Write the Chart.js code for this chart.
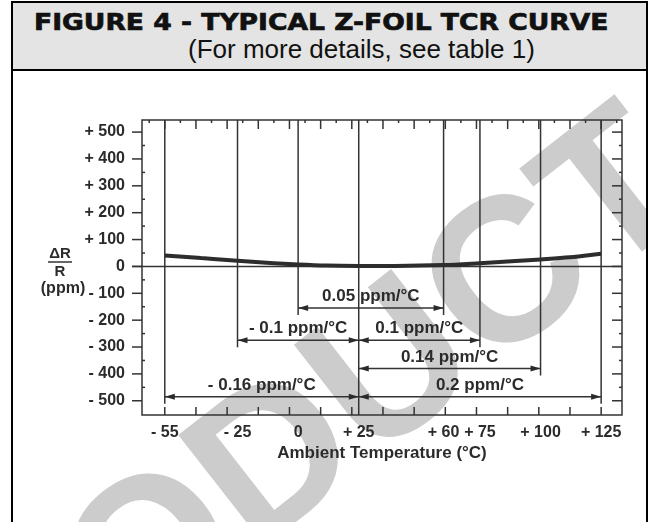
<!DOCTYPE html>
<html>
<head>
<meta charset="utf-8">
<script src="https://cdn.jsdelivr.net/npm/chart.js@4.4.0/dist/chart.umd.min.js"></script>
<style>
  body { margin: 0; background: #fff; }
  #page { position: relative; width: 652px; height: 522px; overflow: hidden; }
  #frame { position: absolute; left: 11px; top: 1px; width: 633px; height: 540px;
           border: 2px solid #000; border-bottom: none; }
  #head { position: absolute; left: 0; top: 0; width: 633px; height: 66px;
          background: #e4e4e4; border-bottom: 2px solid #000; }
  #title { position: absolute; left: 21px; top: 6px; line-height: 1; white-space: nowrap;
           font: bold 23px "DejaVu Sans"; color: #111; -webkit-text-stroke: 0.7px #111;
           transform: scaleX(1.155); transform-origin: 0 0; }
  #sub { position: absolute; left: 175px; top: 31px; line-height: 1; white-space: nowrap;
         font: 26px "Liberation Sans"; color: #111; }
  #chart { position: absolute; left: 0; top: 0; }
</style>
</head>
<body>
<div id="page">
  <div id="frame">
    <div id="head">
      <div id="title">FIGURE 4 - TYPICAL Z-FOIL TCR CURVE</div>
      <div id="sub">(For more details, see table 1)</div>
    </div>
  </div>
  <canvas id="chart" width="652" height="522"></canvas>
</div>
<script>
// axis ticks
const temps = [-55, -25, 0, 25, 60, 75, 100, 125];
const tempLabels = ["- 55", "- 25", "0", "+ 25", "+ 60", "+ 75", "+ 100", "+ 125"];
const ppmTicks = [-500, -400, -300, -200, -100, 0, 100, 200, 300, 400, 500];
const ppmLabels = ["- 500", "- 400", "- 300", "- 200", "- 100", "0", "+ 100", "+ 200", "+ 300", "+ 400", "+ 500"];

// TCR curve
const curveTemps = [-55, -40, -25, -10, 0, 12, 25, 40, 60, 75, 88, 100, 112, 125];
const curvePpm = [41, 31, 21, 12, 7, 3, 2, 2, 5, 12, 19, 26, 34, 47];

// slope spans
const spanFrom = [0, -25, 25, 25, -55, 25];
const spanTo = [60, 25, 75, 100, 25, 125];
const spanText = ["0.05 ppm/°C", "- 0.1 ppm/°C", "0.1 ppm/°C", "0.14 ppm/°C", "- 0.16 ppm/°C", "0.2 ppm/°C"];
const refTemp = 25;

// layout / style
const spanLevel = [-155, -275, -275, -380, -485, -485]; // row height of each arrow, in ppm
const frameDivisions = 14;
const ink = "#2b2b2b";

function line(ctx, x1, y1, x2, y2) {
    ctx.beginPath();
    ctx.moveTo(x1, y1);
    ctx.lineTo(x2, y2);
    ctx.stroke();
}

function arrowHead(ctx, x, y, dir) {
    ctx.beginPath();
    ctx.moveTo(x, y);
    ctx.lineTo(x + dir * 10, y - 3);
    ctx.lineTo(x + dir * 10, y + 3);
    ctx.closePath();
    ctx.fill();
}

const drawings = {
    id: "drawings",
    beforeDraw(chart) {
        // faint watermark behind the plot
        const ctx = chart.ctx;
        ctx.save();
        ctx.beginPath();
        ctx.rect(13, 71, 633, 451);
        ctx.clip();
        ctx.translate(703, 204);
        ctx.rotate(-38 * Math.PI / 180);
        ctx.font = 'bold 205px "Liberation Sans"';
        ctx.fillStyle = "#cccccc";
        ctx.textAlign = "right";
        ctx.fillText("PRODUCT", 0, 0);
        ctx.restore();
    },
    beforeDatasetsDraw(chart) {
        const { ctx, chartArea: a, scales: { x, y } } = chart;
        ctx.save();
        ctx.strokeStyle = "#333";
        ctx.fillStyle = ink;
        ctx.lineWidth = 1.5;

        // frame
        ctx.strokeRect(a.left, a.top, a.right - a.left, a.bottom - a.top);

        // y ticks, left outside, right inside, minor ones at the 50s
        ppmTicks.forEach((v) => {
            const py = y.getPixelForValue(v);
            line(ctx, a.left - 10, py, a.left, py);
            line(ctx, a.right - 10, py, a.right, py);
            if (v < 500) {
                const pm = y.getPixelForValue(v + 50);
                line(ctx, a.left, pm, a.left + 3, pm);
                line(ctx, a.right - 3, pm, a.right, pm);
            }
        });

        // zero line
        const y0 = y.getPixelForValue(0);
        line(ctx, a.left - 10, y0, a.right, y0);

        // top / bottom frame ticks
        const t0 = temps[0];
        const step = (temps[temps.length - 1] - t0) / frameDivisions;
        for (let k = -1; k <= frameDivisions; k++) {
            if (k >= 0) {
                const px = x.getPixelForValue(t0 + k * step);
                line(ctx, px, a.top, px, a.top + 9);
                line(ctx, px, a.bottom - 8, px, a.bottom);
            }
            const ph = x.getPixelForValue(t0 + (k + 0.5) * step);
            if (ph > a.left && ph < a.right) line(ctx, ph, a.top, ph, a.top + 3);
        }

        // vertical temperature lines, down to the lowest arrow that uses them
        temps.forEach((t) => {
            const px = x.getPixelForValue(t);
            let bottom = a.top;
            spanFrom.forEach((f, i) => {
                if (f === t || spanTo[i] === t) bottom = Math.max(bottom, y.getPixelForValue(spanLevel[i]) + 7);
            });
            if (t === refTemp) bottom = a.bottom;
            line(ctx, px, a.top, px, bottom);
        });

        // slope arrows + labels
        ctx.font = 'bold 17px "Liberation Sans"';
        ctx.textAlign = "center";
        ctx.textBaseline = "alphabetic";
        spanFrom.forEach((f, i) => {
            const py = y.getPixelForValue(spanLevel[i]);
            const x1 = x.getPixelForValue(f);
            const x2 = x.getPixelForValue(spanTo[i]);
            line(ctx, x1, py, x2, py);
            arrowHead(ctx, x1, py, 1);
            arrowHead(ctx, x2, py, -1);
            ctx.fillText(spanText[i], (x1 + x2) / 2, py - 7);
        });

        // y axis title: delta R over R, (ppm)
        ctx.font = 'bold 15px "Liberation Sans"';
        ctx.fillText("ΔR", 60, 258);
        line(ctx, 48, 262, 72, 262);
        ctx.fillText("R", 60, 276);
        ctx.font = 'bold 16px "Liberation Sans"';
        ctx.fillText("(ppm)", 63, 293);
        ctx.restore();
    }
};

new Chart(document.getElementById("chart"), {
    type: "line",
    data: {
        datasets: [
            {
                data: curveTemps.map((t, i) => ({ x: t, y: curvePpm[i] })),
                borderColor: "#2d2d2d",
                borderWidth: 4,
                pointRadius: 0,
                cubicInterpolationMode: "monotone",
                fill: false,
            },
        ],
    },
    options: {
        responsive: false,
        animation: false,
        devicePixelRatio: 1,
        layout: { padding: { top: 120, right: 30, bottom: 58, left: 0 } },
        plugins: { legend: { display: false }, tooltip: { enabled: false } },
        scales: {
            x: {
                type: "linear",
                min: -64.4,
                max: 133.6,
                grid: { display: false },
                border: { display: false },
                afterBuildTicks: (s) => { s.ticks = temps.map((v) => ({ value: v })); },
                afterFit: (s) => { s.height = 49; },
                ticks: {
                    autoSkip: false,
                    maxRotation: 0,
                    padding: 0,
                    color: ink,
                    font: { family: "Liberation Sans", size: 16, weight: "bold" },
                    callback: (v) => tempLabels[temps.indexOf(v)],
                },
                title: {
                    display: true,
                    text: "Ambient Temperature (°C)",
                    color: ink,
                    padding: 0,
                    font: { family: "Liberation Sans", size: 17, weight: "bold" },
                },
            },
            y: {
                type: "linear",
                min: -553,
                max: 545,
                grid: { display: false },
                border: { display: false },
                afterBuildTicks: (s) => { s.ticks = ppmTicks.map((v) => ({ value: v })); },
                afterFit: (s) => { s.width = 142; },
                ticks: {
                    padding: 9,
                    color: ink,
                    font: { family: "Liberation Sans", size: 16, weight: "bold" },
                    callback: (v) => ppmLabels[ppmTicks.indexOf(v)],
                },
            },
        },
    },
    plugins: [drawings],
});
</script>
</body>
</html>
